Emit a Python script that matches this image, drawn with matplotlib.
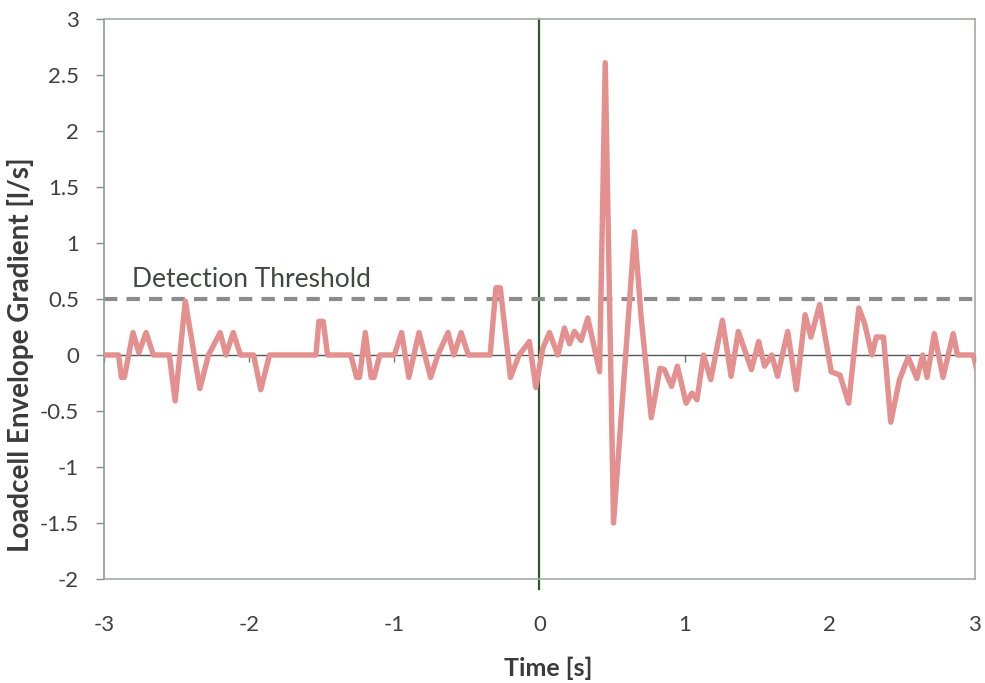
import numpy as np
import matplotlib.pyplot as plt
from matplotlib.ticker import FormatStrFormatter

# Time [s]
t = [-3.00, -2.90, -2.88, -2.86, -2.80, -2.76, -2.71, -2.66, -2.55, -2.51,
     -2.44, -2.34, -2.28, -2.20, -2.16, -2.11, -2.06, -1.97, -1.92, -1.86,
     -1.54, -1.52, -1.49, -1.46, -1.30, -1.26, -1.24, -1.20, -1.16, -1.14,
     -1.10, -1.00, -0.95, -0.90, -0.83, -0.75, -0.70, -0.63, -0.59, -0.54,
     -0.49, -0.34, -0.30, -0.27, -0.20, -0.14, -0.07, -0.025, 0.023, 0.069,
     0.126, 0.172, 0.207, 0.241, 0.287, 0.333, 0.414, 0.453, 0.51, 0.655,
     0.70, 0.77, 0.83, 0.86, 0.91, 0.95, 1.01, 1.05, 1.085, 1.13,
     1.18, 1.26, 1.32, 1.37, 1.46, 1.51, 1.55, 1.60, 1.64, 1.71,
     1.77, 1.83, 1.87, 1.93, 2.01, 2.07, 2.13, 2.20, 2.24, 2.29,
     2.32, 2.37, 2.42, 2.48, 2.54, 2.60, 2.64, 2.67, 2.72, 2.78,
     2.85, 2.88, 2.99, 3.01]

# Loadcell envelope gradient [l/s]
grad = [0.0, 0.0, -0.2, -0.2, 0.2, 0.02, 0.2, 0.0, 0.0, -0.41,
        0.48, -0.30, 0.0, 0.2, 0.0, 0.2, 0.0, 0.0, -0.31, 0.0,
        0.0, 0.3, 0.3, 0.0, 0.0, -0.2, -0.2, 0.2, -0.2, -0.2,
        0.0, 0.0, 0.2, -0.2, 0.2, -0.2, 0.0, 0.2, 0.0, 0.2,
        0.0, 0.0, 0.6, 0.6, -0.2, 0.0, 0.12, -0.29, 0.06, 0.2,
        0.0, 0.24, 0.10, 0.21, 0.13, 0.33, -0.15, 2.61, -1.50, 1.10,
        0.34, -0.56, -0.12, -0.13, -0.28, -0.10, -0.43, -0.34, -0.40, 0.0,
        -0.22, 0.31, -0.19, 0.21, -0.13, 0.12, -0.10, 0.0, -0.19, 0.21,
        -0.31, 0.36, 0.16, 0.45, -0.15, -0.18, -0.43, 0.42, 0.28, 0.0,
        0.16, 0.16, -0.60, -0.22, -0.02, -0.21, 0.0, -0.2, 0.19, -0.2,
        0.19, 0.0, 0.0, -0.12]

threshold = 0.5
xticks = [-3, -2, -1, 0, 1, 2, 3]
yticks = [-2, -1.5, -1, -0.5, 0, 0.5, 1, 1.5, 2, 2.5, 3]

plt.rcParams['font.family'] = ['Lato', 'DejaVu Sans']
plt.rcParams['axes.unicode_minus'] = False

fig = plt.figure(figsize=(9.85, 6.83), dpi=100)
ax = fig.add_axes([0.1056, 0.1523, 0.8842, 0.8199])

ax.axhline(0, color='#555555', lw=1.0, zorder=1)
ax.axvline(0, ymin=-0.018, ymax=1, color='#2b5a2b', lw=1.6, zorder=2, clip_on=False)
ax.axhline(threshold, color='#8c8c8c', lw=3, ls=(0, (3.2, 2.2)), zorder=2)
ax.plot(t, grad, color='#e3908f', lw=3.9, zorder=3, solid_joinstyle='round')

ax.text(-2.81, 0.67, 'Detection Threshold', fontsize=19, color='#3d4a3d', va='center', ha='left')

ax.set_xlim(-3, 3)
ax.set_ylim(-2, 3)
ax.set_xticks(xticks)
ax.set_yticks(yticks)
ax.yaxis.set_major_formatter(FormatStrFormatter('%g'))

for s in ax.spines.values():
    s.set_color('#a3aaa3')
    s.set_linewidth(1.2)
ax.spines['left'].set_color('#8aa08a')

ax.tick_params(axis='y', direction='out', length=6, width=1, color='#8a8a8a',
               pad=12, labelsize=16, labelcolor='#404040')
ax.tick_params(axis='x', length=0, pad=26, labelsize=16, labelcolor='#404040')

# small ticks on the zero line, Excel style
sec = ax.secondary_xaxis(0.4)
sec.set_xticks(xticks)
sec.tick_params(axis='x', direction='out', length=5, width=1, color='#777777', labelbottom=False)
sec.spines['bottom'].set_visible(False)

ax.set_xlabel('Time [s]', fontsize=18, fontweight='bold', color='#3b3b3b')
ax.set_ylabel('Loadcell Envelope Gradient [l/s]', fontsize=20, fontweight='bold',
              color='#3b3b3b')
ax.xaxis.set_label_coords(0.51, -0.139)
ax.yaxis.set_label_coords(-0.080, 0.40)

fig.savefig('out.png', dpi=100)
